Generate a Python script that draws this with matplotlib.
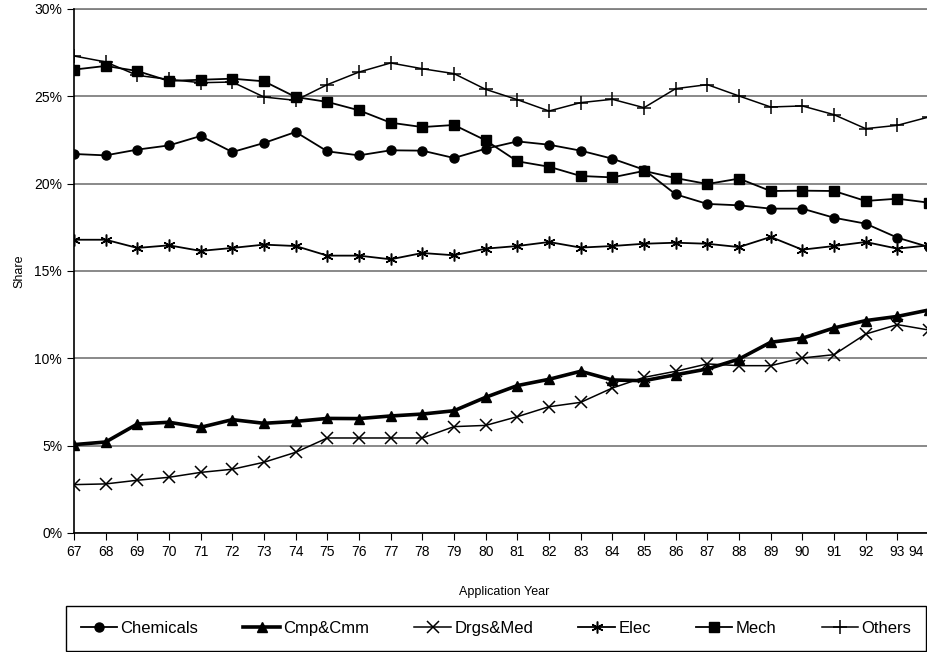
import numpy as np
import matplotlib.pyplot as plt

plt.rcParams['font.family'] = ['Liberation Sans', 'DejaVu Sans']

years = np.arange(67, 95)
year_labels = [str(y) for y in years]

chemicals = [21.70, 21.62, 21.95, 22.19, 22.73, 21.81, 22.33, 22.96, 21.85, 21.62,
             21.91, 21.89, 21.47, 22.00, 22.42, 22.23, 21.89, 21.43, 20.80, 19.39,
             18.84, 18.76, 18.57, 18.57, 18.05, 17.71, 16.91, 16.37]
cmp_cmm = [5.06, 5.21, 6.24, 6.34, 6.05, 6.49, 6.28, 6.39, 6.56, 6.55,
           6.70, 6.81, 7.00, 7.77, 8.44, 8.80, 9.26, 8.76, 8.72, 9.06,
           9.39, 9.96, 10.92, 11.15, 11.74, 12.16, 12.40, 12.77]
drgs_med = [2.77, 2.81, 3.02, 3.19, 3.47, 3.65, 4.05, 4.62, 5.44, 5.44,
            5.44, 5.44, 6.09, 6.16, 6.66, 7.23, 7.48, 8.30, 8.91, 9.26,
            9.68, 9.58, 9.58, 10.02, 10.21, 11.39, 11.93, 11.62]
elec = [16.79, 16.79, 16.32, 16.47, 16.15, 16.32, 16.51, 16.43, 15.88, 15.88,
        15.67, 16.03, 15.90, 16.28, 16.43, 16.66, 16.34, 16.43, 16.56, 16.62,
        16.56, 16.37, 16.95, 16.22, 16.43, 16.66, 16.28, 16.47]
mech = [26.53, 26.74, 26.45, 25.88, 25.95, 26.01, 25.86, 24.96, 24.68, 24.20,
        23.49, 23.24, 23.36, 22.48, 21.28, 20.97, 20.44, 20.36, 20.73, 20.32,
        19.98, 20.29, 19.58, 19.60, 19.58, 19.01, 19.14, 18.91]
others = [27.31, 26.97, 26.20, 25.97, 25.78, 25.82, 24.96, 24.77, 25.67, 26.39,
          26.91, 26.58, 26.30, 25.40, 24.81, 24.16, 24.64, 24.83, 24.35, 25.44,
          25.67, 25.02, 24.39, 24.45, 23.95, 23.15, 23.34, 23.82]

fig = plt.figure(figsize=(9.27, 6.52), dpi=100)
ax = fig.add_axes([74 / 927, 1 - 533 / 652, 855 / 927, 524 / 652])

ax.plot(years, chemicals, color='black', lw=1.3, marker='o', ms=6.5, label='Chemicals')
ax.plot(years, cmp_cmm, color='black', lw=2.6, marker='^', ms=6.5, label='Cmp&Cmm')
ax.plot(years, drgs_med, color='black', lw=1.1, marker='x', ms=8, mew=1.1, label='Drgs&Med')
ax.plot(years, elec, color='black', lw=1.3, marker=(6, 2, 0), ms=8.5, mew=1.1, label='Elec')
ax.plot(years, mech, color='black', lw=1.3, marker='s', ms=6.5, label='Mech')
ax.plot(years, others, color='black', lw=1.1, marker='+', ms=10, mew=1.1, label='Others')

ax.set_xlim(67, 94)
ax.set_ylim(0, 30)
ax.set_xticks(years)
# the last year sits on the figure edge: draw its label by hand, a bit inside
ax.set_xticklabels(year_labels[:-1] + [''])
ax.annotate(year_labels[-1], xy=(years[-1], 0), xycoords=('data', 'axes fraction'),
            xytext=(-4, -8.5), textcoords='offset points', ha='right', va='top',
            fontsize=10, annotation_clip=False)
ax.set_yticks(np.arange(0, 31, 5))
ax.set_yticklabels([f'{v}%' for v in range(0, 31, 5)])
ax.tick_params(axis='both', labelsize=10, direction='out', length=5, color='black')
ax.yaxis.grid(True, color='#808080', lw=1.3)
ax.set_axisbelow(True)
for s in ['top', 'right']:
    ax.spines[s].set_visible(False)
ax.spines['left'].set_linewidth(1.2)
ax.spines['bottom'].set_linewidth(1.2)
ax.plot([67, 94], [30, 30], color='#808080', lw=1.3, clip_on=False, zorder=0)

ax.set_ylabel('Share', fontsize=9, labelpad=6)
fig.text(504 / 927, 1 - 592 / 652, 'Application Year', fontsize=9, ha='center', va='center')

leg = fig.legend(loc='center', ncol=6, fontsize=12,
                 bbox_to_anchor=(496 / 927, 1 - 628.5 / 652),
                 fancybox=False, framealpha=1, edgecolor='black',
                 handlelength=2.2, handletextpad=0.2, columnspacing=2.7,
                 borderpad=0.9, borderaxespad=0)
leg.get_frame().set_linewidth(1.0)

fig.savefig('out.png', dpi=100)
